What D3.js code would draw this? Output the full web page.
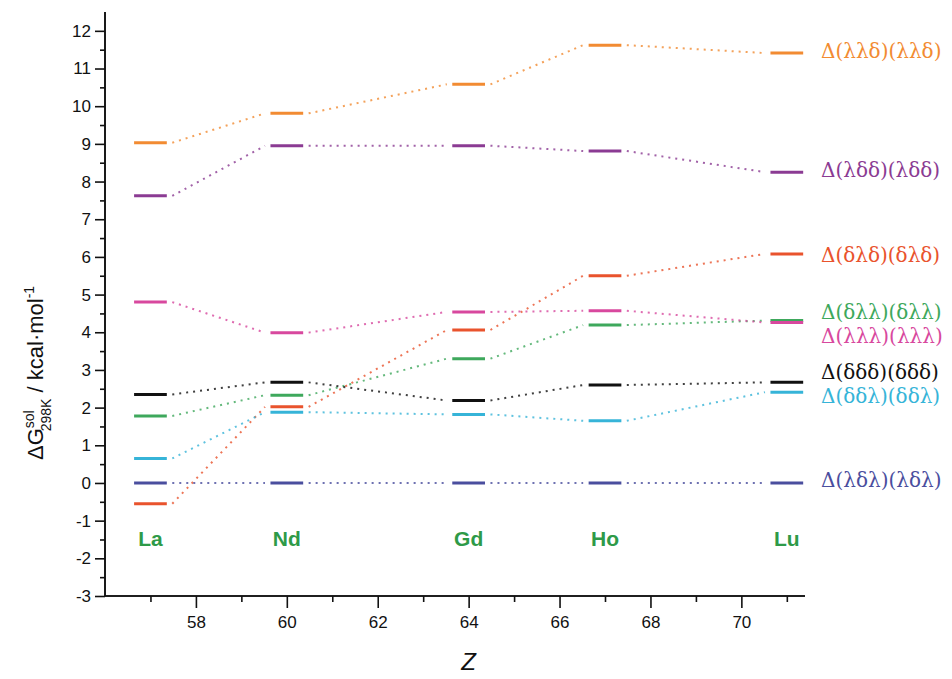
<!DOCTYPE html>
<html><head><meta charset="utf-8">
<script src="https://cdn.jsdelivr.net/npm/d3@7"></script>
<style>body{margin:0;background:#fff}svg{display:block}</style>
</head><body>
<svg id="c" width="952" height="679"></svg>
<script>
const Z = [57, 60, 64, 67, 71];
const elements = ["La", "Nd", "Gd", "Ho", "Lu"];
const seriesNames = ["Δ(λλδ)(λλδ)", "Δ(λδδ)(λδδ)", "Δ(δλδ)(δλδ)", "Δ(δλλ)(δλλ)", "Δ(λλλ)(λλλ)", "Δ(δδδ)(δδδ)", "Δ(δδλ)(δδλ)", "Δ(λδλ)(λδλ)"];
const lld = [9.03, 9.81, 10.58, 11.62, 11.41];
const ldd = [7.62, 8.95, 8.95, 8.81, 8.25];
const dld = [-0.55, 2.02, 4.06, 5.50, 6.08];
const dll = [1.78, 2.33, 3.30, 4.19, 4.31];
const lll = [4.80, 3.99, 4.54, 4.57, 4.26];
const ddd = [2.35, 2.67, 2.19, 2.60, 2.67];
const ddl = [0.65, 1.88, 1.82, 1.65, 2.41];
const ldl = [0, 0, 0, 0, 0];
const seriesValues = [lld, ldd, dld, dll, lll, ddd, ddl, ldl];
const seriesColors = ["#f28b32", "#8b3b93", "#e9532d", "#3ea85c", "#d8489e", "#111111", "#36b4d8", "#4a4e9e"];
const labelLevels = [11.46, 8.31, 6.05, 4.55, 3.9, 2.94, 2.3, 0.08];
const yTicks = d3.range(-3, 13, 1);
const xTicks = [58, 60, 62, 64, 66, 68, 70];

const svg = d3.select("#c");
const x = d3.scaleLinear().domain([56, 71.4]).range([105, 805]);
const y = d3.scaleLinear().domain([-3, 12.5]).range([596, 12]);
const hw = 0.36, gap = 0.12;

// connectors
seriesValues.forEach((vals, s) => {
  for (let i = 0; i < Z.length - 1; i++) {
    svg.append("line")
      .attr("x1", x(Z[i] + hw + gap)).attr("y1", y(vals[i]))
      .attr("x2", x(Z[i + 1] - hw - gap)).attr("y2", y(vals[i + 1]))
      .attr("stroke", seriesColors[s]).attr("stroke-width", 2)
      .attr("stroke-dasharray", "2,5").attr("opacity", 0.8);
  }
});
// bars
seriesValues.forEach((vals, s) => {
  svg.selectAll(null).data(vals).join("line")
    .attr("x1", (d, i) => x(Z[i] - hw)).attr("x2", (d, i) => x(Z[i] + hw))
    .attr("y1", d => y(d)).attr("y2", d => y(d))
    .attr("stroke", seriesColors[s]).attr("stroke-width", 3);
});

// axes
const fmt = d => String(d);
const yAxis = d3.axisLeft(y).tickValues(yTicks).tickSize(10).tickPadding(4).tickFormat(fmt);
const gy = svg.append("g").attr("transform", `translate(${x(56)},0)`).call(yAxis);
gy.append("g").call(d3.axisLeft(y).tickValues(d3.range(-2.5, 12.5, 1)).tickSize(5).tickFormat(""));
const xAxis = d3.axisBottom(x).tickValues(xTicks).tickSize(12).tickPadding(8).tickFormat(fmt);
const gx = svg.append("g").attr("transform", `translate(0,${y(-3)})`).call(xAxis);
gx.append("g").call(d3.axisBottom(x).tickValues([57, 59, 61, 63, 65, 67, 69, 71]).tickSize(6).tickFormat(""));
svg.selectAll(".domain").attr("stroke", "#111").attr("stroke-width", 1.6);
svg.selectAll(".tick line").attr("stroke", "#111").attr("stroke-width", 1.6);
svg.selectAll(".tick text").attr("font-family", "Liberation Sans, Arial, sans-serif").attr("font-size", 17).attr("fill", "#111");
gy.selectAll(".domain").attr("d", `M0,${y(12.5)}V${y(-3)}`);
gx.selectAll(".domain").attr("d", `M${x(56)},0H${x(71.4)}`);

// element labels
svg.selectAll(null).data(elements).join("text")
  .attr("x", (d, i) => x(Z[i])).attr("y", y(-1.5) + 7)
  .attr("text-anchor", "middle").attr("font-family", "Liberation Sans, Arial, sans-serif")
  .attr("font-weight", "bold").attr("font-size", 21).attr("fill", "#2e9a48").text(d => d);

// series labels
svg.selectAll(null).data(seriesNames).join("text")
  .attr("x", 821).attr("y", (d, i) => y(labelLevels[i]) + 7)
  .attr("font-family", "DejaVu Serif, serif").attr("font-size", 20)
  .attr("fill", (d, i) => seriesColors[i]).text(d => d);

// axis titles
const yt = svg.append("text").attr("transform", "translate(43,460) rotate(-90)")
  .attr("font-family", "Liberation Sans, Arial, sans-serif").attr("font-size", 22).attr("fill", "#111");
yt.append("tspan").text("ΔG");
yt.append("tspan").attr("font-size", 14).attr("dy", -9).text("sol");
yt.append("tspan").attr("font-size", 14).attr("dx", -21).attr("dy", 17).text("298K");
yt.append("tspan").attr("dy", -8).text(" / kcal·mol");
yt.append("tspan").attr("font-size", 14).attr("dy", -9).text("-1");

svg.append("text").attr("x", x(64)).attr("y", 670).attr("text-anchor", "middle")
  .attr("font-family", "Liberation Sans, Arial, sans-serif").attr("font-style", "italic")
  .attr("font-size", 24).attr("fill", "#111").text("Z");
</script>
</body></html>
